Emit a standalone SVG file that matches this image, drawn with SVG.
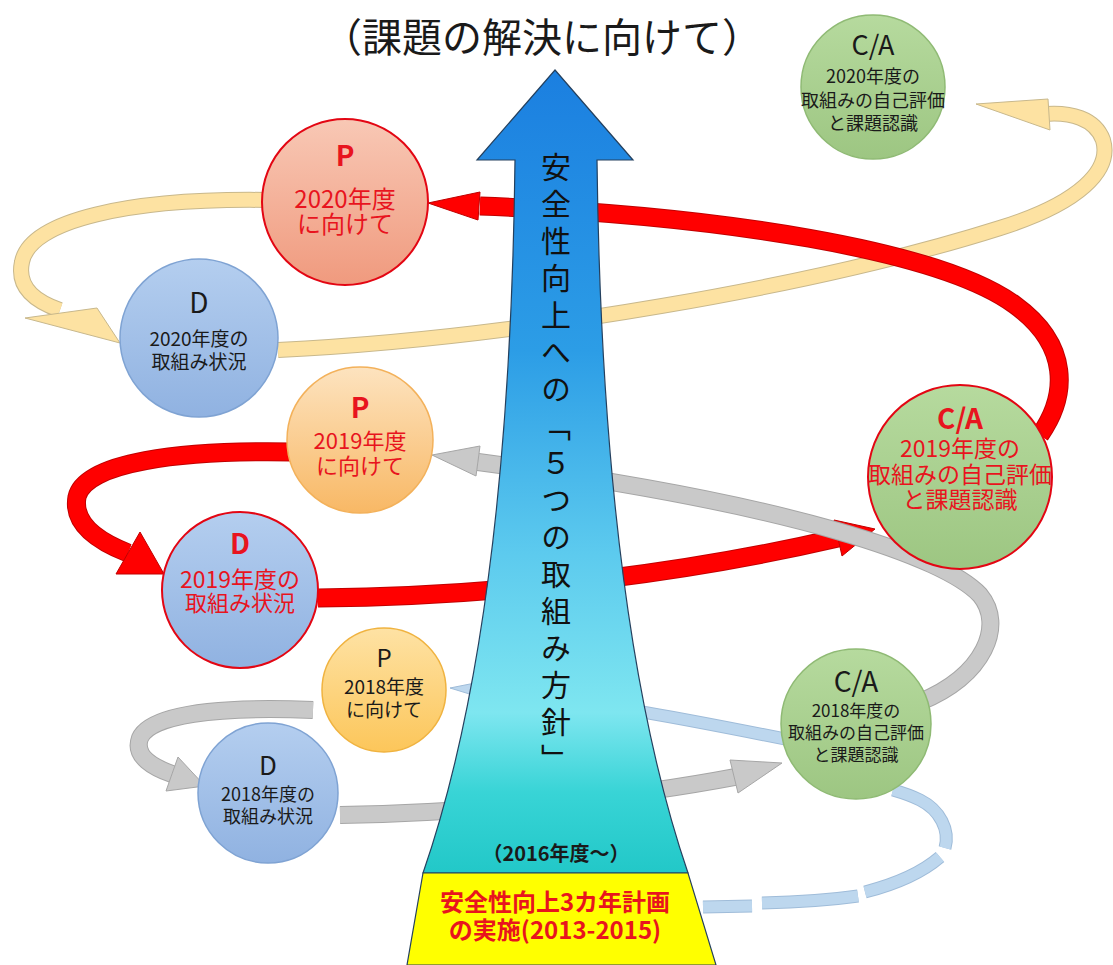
<svg xmlns="http://www.w3.org/2000/svg" xmlns:xlink="http://www.w3.org/1999/xlink" width="1113" height="965" viewBox="0 0 1113 965">
<style>
text{font-family:"Noto Sans CJK JP","Noto Sans CJK SC",sans-serif;text-anchor:middle}
.red{fill:#e8141e}
.blk{fill:#1a1a1a}
.b{font-weight:bold}
.yo{fill:none;stroke:#c8b88c;stroke-width:16}
.yi{fill:none;stroke:#fde2a2;stroke-width:14}
.yh{fill:#fde2a2;stroke:#c8b88c;stroke-width:1}
.ro{fill:none;stroke:#c00000;stroke-width:19}
.ri{fill:none;stroke:#ff0000;stroke-width:17}
.rh{fill:#ff0000;stroke:#c00000;stroke-width:1}
.go{fill:none;stroke:#a6a6a6;stroke-width:18}
.gi{fill:none;stroke:#c9c9c9;stroke-width:16}
.gh{fill:#c9c9c9;stroke:#a6a6a6;stroke-width:1}
.bo{fill:none;stroke:#9fbcd9;stroke-width:13}
.bi{fill:none;stroke:#bdd7ee;stroke-width:11}
.bh{fill:#bdd7ee;stroke:#9fbcd9;stroke-width:1}
.vt{writing-mode:vertical-rl;text-orientation:upright;font-size:30px;letter-spacing:7px;fill:#111;text-anchor:start}
</style>
<defs>
<linearGradient id="gArrow" gradientUnits="userSpaceOnUse" x1="0" y1="70" x2="0" y2="873">
<stop offset="0" stop-color="#1b7fe0"/>
<stop offset="0.35" stop-color="#2c9de6"/>
<stop offset="0.6" stop-color="#5ccaee"/>
<stop offset="0.8" stop-color="#7ee6f0"/>
<stop offset="0.9" stop-color="#38d4d6"/>
<stop offset="1" stop-color="#22c8c8"/>
</linearGradient>
<linearGradient id="gSalmon" x1="0" y1="0" x2="0" y2="1"><stop offset="0" stop-color="#f8c8b5"/><stop offset="1" stop-color="#f09a7e"/></linearGradient>
<linearGradient id="gOrange" x1="0" y1="0" x2="0" y2="1"><stop offset="0" stop-color="#fde3bf"/><stop offset="1" stop-color="#f8b865"/></linearGradient>
<linearGradient id="gGold" x1="0" y1="0" x2="0" y2="1"><stop offset="0" stop-color="#fee2a4"/><stop offset="1" stop-color="#fcc65a"/></linearGradient>
<linearGradient id="gBlue" x1="0" y1="0" x2="0" y2="1"><stop offset="0" stop-color="#b4ceef"/><stop offset="1" stop-color="#90b2e1"/></linearGradient>
<linearGradient id="gGreen" x1="0" y1="0" x2="0" y2="1"><stop offset="0" stop-color="#b6da9e"/><stop offset="1" stop-color="#9dc682"/></linearGradient>
<path id="ya" d="M 268,200 C 130,198 30,220 22,262 C 16,290 40,303 60,310"/>
<path id="yb" d="M 278,350 C 520,338 820,285 1000,228 C 1080,203 1112,170 1103,140 C 1095,118 1070,112 1045,114"/>
<path id="ra" d="M 292,452 C 180,450 85,462 77,497 C 72,525 100,542 128,553"/>
<path id="rb" d="M 318,598 C 520,596 700,570 838,538"/>
<path id="rc" d="M 1040,435 C 1068,395 1070,345 1015,305 C 940,250 720,215 480,206"/>
<path id="ga" d="M 313,710 C 215,706 150,715 140,738 C 133,757 155,768 172,774"/>
<path id="gb" d="M 340,815 C 500,812 640,795 735,777"/>
<path id="gc" d="M 920,702 C 985,675 1005,625 980,595 C 945,558 800,505 478,462"/>
<path id="ba" d="M 790,740 C 700,722 600,702 490,691"/>
<path id="bb1" d="M 703,907 L 752,906"/>
<path id="bb2" d="M 762,903 C 800,902 830,900 858,896"/>
<path id="bb3" d="M 865,892 C 900,883 925,870 940,857"/>
<path id="bb4" d="M 945,848 C 950,830 940,810 920,800 C 910,795 900,792 893,790"/>
</defs>
<rect width="1113" height="965" fill="#ffffff"/>

<g id="connectors">
<use href="#ya" class="yo"/><use href="#ya" class="yi"/>
<polygon class="yh" points="25,318 97,308 120,343"/>
<use href="#yb" class="yo"/><use href="#yb" class="yi"/>
<polygon class="yh" points="1048,99 976,104 1050,130"/>
<use href="#ra" class="ro"/><use href="#ra" class="ri"/>
<polygon class="rh" points="140,532 164,574 116,574"/>
<use href="#rb" class="ro"/><use href="#rb" class="ri"/>
<polygon class="rh" points="834,520 875,529 842,556"/>
<use href="#rc" class="ro"/><use href="#rc" class="ri"/>
<polygon class="rh" points="480,192 428,203 478,220"/>
<use href="#ga" class="go"/><use href="#ga" class="gi"/>
<polygon class="gh" points="178,757 205,786 166,791"/>
<use href="#gb" class="go"/><use href="#gb" class="gi"/>
<polygon class="gh" points="730,760 782,763 738,793"/>
<use href="#gc" class="go"/><use href="#gc" class="gi"/>
<polygon class="gh" points="480,446 432,455 476,476"/>
<use href="#ba" class="bo"/><use href="#ba" class="bi"/>
<polygon class="bh" points="490,680 450,688 489,700"/>
<use href="#bb1" class="bo"/><use href="#bb1" class="bi"/>
<use href="#bb2" class="bo"/><use href="#bb2" class="bi"/>
<use href="#bb3" class="bo"/><use href="#bb3" class="bi"/>
<use href="#bb4" class="bo"/><use href="#bb4" class="bi"/>
</g>

<g id="main-arrow">
<path d="M 555,70 L 633,160 L 597,160 C 600,420 622,680 688,873 L 423,873 C 490,680 512,420 515,160 L 477,160 Z" fill="url(#gArrow)" stroke="#24405e" stroke-width="1.2"/>
<text class="vt" x="556" y="152">安全性向上への「５つの取組み方針」</text>
<text class="blk b" x="556" y="861" font-size="20">（2016年度～）</text>
</g>

<g id="base">
<path d="M 423,873 L 688,873 L 716,965 L 407,965 Z" fill="#ffff00" stroke="#24405e" stroke-width="1.2"/>
<text class="red b" x="555" y="911" font-size="24">安全性向上3カ年計画</text>
<text class="red b" x="555" y="939" font-size="24">の実施(2013-2015)</text>
</g>

<g id="title">
<text class="blk" x="542" y="52" font-size="40">（課題の解決に向けて）</text>
</g>

<g id="ca2020">
<circle cx="873" cy="87" r="72" fill="url(#gGreen)" stroke="#8fba74" stroke-width="1.5"/>
<text class="blk" x="873" y="55" font-size="27">C/A</text>
<text class="blk" x="873" y="83" font-size="18">2020年度の</text>
<text class="blk" x="873" y="107" font-size="18">取組みの自己評価</text>
<text class="blk" x="873" y="130" font-size="18">と課題認識</text>
</g>

<g id="p2020">
<circle cx="345" cy="202" r="83" fill="url(#gSalmon)" stroke="#e30613" stroke-width="2"/>
<text class="red b" x="345" y="166" font-size="28">P</text>
<text class="red" x="345" y="208" font-size="24">2020年度</text>
<text class="red" x="345" y="233" font-size="24">に向けて</text>
</g>

<g id="d2020">
<circle cx="199" cy="338" r="79" fill="url(#gBlue)" stroke="#7fa3d3" stroke-width="1.5"/>
<text class="blk" x="199" y="313" font-size="28">D</text>
<text class="blk" x="199" y="346" font-size="19">2020年度の</text>
<text class="blk" x="199" y="369" font-size="19">取組み状況</text>
</g>

<g id="p2019">
<circle cx="360" cy="440" r="73" fill="url(#gOrange)" stroke="#f3b15a" stroke-width="1.5"/>
<text class="red b" x="360" y="418" font-size="28">P</text>
<text class="red" x="360" y="449" font-size="22">2019年度</text>
<text class="red" x="360" y="474" font-size="22">に向けて</text>
</g>

<g id="ca2019">
<circle cx="960" cy="477" r="92" fill="url(#gGreen)" stroke="#e30613" stroke-width="2"/>
<text class="red b" x="960" y="429" font-size="28">C/A</text>
<text class="red" x="960" y="457" font-size="23">2019年度の</text>
<text class="red" x="960" y="483" font-size="23">取組みの自己評価</text>
<text class="red" x="960" y="508" font-size="23">と課題認識</text>
</g>

<g id="d2019">
<circle cx="240" cy="590" r="78" fill="url(#gBlue)" stroke="#e30613" stroke-width="2"/>
<text class="red b" x="240" y="554" font-size="28">D</text>
<text class="red" x="240" y="588" font-size="23">2019年度の</text>
<text class="red" x="240" y="611" font-size="22">取組み状況</text>
</g>

<g id="p2018">
<circle cx="384" cy="690" r="62" fill="url(#gGold)" stroke="#f0b340" stroke-width="1.5"/>
<text class="blk" x="384" y="667" font-size="24">P</text>
<text class="blk" x="384" y="694" font-size="19">2018年度</text>
<text class="blk" x="384" y="717" font-size="19">に向けて</text>
</g>

<g id="ca2018">
<circle cx="856" cy="724" r="75" fill="url(#gGreen)" stroke="#8fba74" stroke-width="1.5"/>
<text class="blk" x="856" y="692" font-size="28">C/A</text>
<text class="blk" x="856" y="717" font-size="17">2018年度の</text>
<text class="blk" x="856" y="739" font-size="17">取組みの自己評価</text>
<text class="blk" x="856" y="761" font-size="17">と課題認識</text>
</g>

<g id="d2018">
<circle cx="268" cy="793" r="70" fill="url(#gBlue)" stroke="#7fa3d3" stroke-width="1.5"/>
<text class="blk" x="268" y="775" font-size="26">D</text>
<text class="blk" x="268" y="801" font-size="18">2018年度の</text>
<text class="blk" x="268" y="823" font-size="18">取組み状況</text>
</g>
</svg>
